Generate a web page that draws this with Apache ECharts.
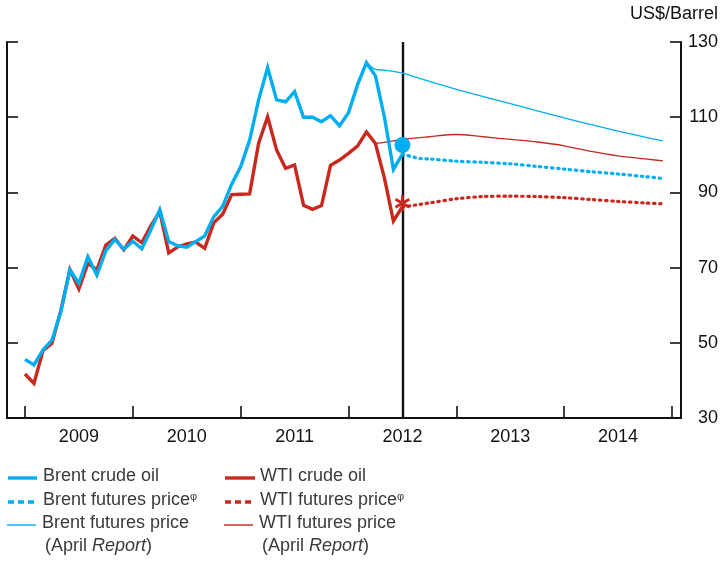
<!DOCTYPE html>
<html>
<head>
<meta charset="utf-8">
<script src="https://cdn.jsdelivr.net/npm/echarts@6/dist/echarts.min.js"></script>
<style>html,body{margin:0;padding:0;background:#fff;}#c{width:721px;height:561px;}</style>
</head>
<body>
<div id="c"></div>
<script>
// ---- axis scaffolding: monthly categories Nov 2008 .. Feb 2015
const axisStart = [2008, 11];
const axisEnd = [2015, 2];
const months = [];
for (let y = axisStart[0], m = axisStart[1]; y < axisEnd[0] || (y === axisEnd[0] && m <= axisEnd[1]); m++) {
  if (m > 12) { m = 1; y++; }
  months.push(y + '-' + String(m).padStart(2, '0'));
}
const yTicks = [30, 50, 70, 90, 110, 130];

// ---- data (US$/barrel), monthly from Jan 2009 to Jul 2012
const histStart = '2009-01';
const brentCrude = [45.6,44.1,48.1,50.7,58.3,69.4,65.8,72.9,68.0,74.5,77.5,74.9,
  77.0,75.0,80.0,85.4,76.9,75.8,75.4,76.9,78.4,83.5,86.3,92.2,
  96.8,103.9,114.6,123.2,114.6,114.1,116.8,110.0,110.0,108.8,110.4,107.7,
  111.2,118.6,124.5,121.0,110.0,96.1,100.2];
const wtiCrude = [41.7,39.2,47.9,49.9,58.7,69.5,64.3,71.1,69.4,76.0,77.8,74.7,
  78.4,76.6,81.1,84.9,73.9,75.5,76.3,76.8,75.1,81.9,84.2,89.4,
  89.5,89.6,103.1,110.1,101.3,96.4,97.3,86.6,85.5,86.5,97.2,98.6,
  100.4,102.3,106.1,103.0,93.8,82.4,86.2];

// futures curves (month, value)
const brentFutMonths = ['2012-07','2012-09','2012-10','2013-01','2013-04','2013-07','2013-10','2014-01','2014-04','2014-07','2014-10','2014-12'];
const brentFut       = [100.2, 99.0, 98.9, 98.3, 98.0, 97.6, 96.9, 96.2, 95.5, 94.9, 94.2, 93.7];
const wtiFutMonths   = ['2012-07','2012-10','2013-01','2013-04','2013-07','2013-10','2014-01','2014-04','2014-07','2014-10','2014-12'];
const wtiFut         = [86.1, 87.2, 88.3, 88.9, 89.0, 88.9, 88.6, 88.1, 87.6, 87.2, 87.0];

const brentAprMonths = ['2012-03','2012-04','2012-05','2012-07','2012-10','2013-01','2013-04','2013-07','2013-10','2014-01','2014-04','2014-07','2014-10','2014-12'];
const brentApr       = [124.5, 122.7, 122.5, 121.7, 119.5, 117.4, 115.5, 113.6, 111.7, 109.8, 108.0, 106.3, 104.7, 103.7];
const wtiAprMonths   = ['2012-04','2012-05','2012-07','2012-10','2013-01','2013-04','2013-07','2013-10','2014-01','2014-04','2014-07','2014-10','2014-12'];
const wtiApr         = [103.0, 103.3, 104.1, 104.8, 105.4, 104.8, 104.1, 103.4, 102.4, 100.9, 99.7, 98.9, 98.4];

const brentSpotMark = ['2012-07', 102.6];
const wtiSpotMark = ['2012-07', 87.1];
const dividerMonth = '2012-07';

// ---- build
const BLUE = '#00AEEF', RED = '#C9281F';
const FONT = '"Liberation Sans", Arial, Helvetica, sans-serif';
const s0 = months.indexOf(histStart);
const hist = arr => arr.map((v, i) => [months[s0 + i], v]);
const pairs = (ms, vs) => ms.map((m, i) => [m, vs[i]]);

const chart = echarts.init(document.getElementById('c'), null, {renderer: 'canvas'});

const yCommon = {
  type: 'value', min: yTicks[0], max: yTicks[yTicks.length - 1], interval: 20,
  splitLine: {show: false},
  axisLine: {show: true, lineStyle: {color: '#111', width: 2}},
  axisTick: {show: true, inside: true, length: 11, lineStyle: {color: '#111', width: 1.6}}
};

function legendRow(y, x1, x2, color, width, dash) {
  return {type: 'line', shape: {x1: x1, y1: y, x2: x2, y2: y},
    style: {stroke: color, lineWidth: width, lineDash: dash || null, lineCap: 'butt'}, silent: true};
}
function legendText(x, y, text, rich) {
  return {type: 'text', left: x, top: y - 11, style: {text: text, fontFamily: FONT, fontSize: 18, fill: '#3a3a3a', rich: rich || undefined}, silent: true};
}
const richFoot = {
  n: {fontFamily: FONT, fontSize: 18, fill: '#3a3a3a'},
  s: {fontFamily: FONT, fontSize: 11, fill: '#3a3a3a', verticalAlign: 'top', padding: [0,0,4,0]}
};
const richIt = {
  n: {fontFamily: FONT, fontSize: 18, fill: '#3a3a3a'},
  i: {fontFamily: FONT, fontSize: 18, fill: '#3a3a3a', fontStyle: 'italic'}
};

chart.setOption({
  animation: false,
  grid: {left: 7, right: 40, top: 42, bottom: 143, containLabel: false},
  xAxis: {
    type: 'category', data: months, boundaryGap: false,
    axisLine: {show: true, lineStyle: {color: '#111', width: 2}},
    axisTick: {show: true, inside: true, length: 12, lineStyle: {color: '#111', width: 1.6},
      interval: (i, v) => v.endsWith('-01')},
    axisLabel: {show: true, interval: (i, v) => v.endsWith('-07'), formatter: v => v.slice(0, 4),
      fontFamily: FONT, fontSize: 18, color: '#111', margin: 10, hideOverlap: false},
    splitLine: {show: false}
  },
  yAxis: [
    Object.assign({}, yCommon, {position: 'left', axisLabel: {show: false}}),
    Object.assign({}, yCommon, {position: 'right',
      axisLabel: {show: true, fontFamily: FONT, fontSize: 18, color: '#111', align: 'right', margin: 37}})
  ],
  series: [
    {name: 'Brent futures price (April Report)', type: 'line', data: pairs(brentAprMonths, brentApr), smooth: 0.3,
      showSymbol: false, lineStyle: {color: BLUE, width: 1.3}, z: 2},
    {name: 'WTI futures price (April Report)', type: 'line', data: pairs(wtiAprMonths, wtiApr), smooth: 0.3,
      showSymbol: false, lineStyle: {color: RED, width: 1.3}, z: 2},
    {name: 'Brent futures price', type: 'line', data: pairs(brentFutMonths, brentFut), smooth: 0.3,
      showSymbol: false, lineStyle: {color: BLUE, width: 3.2, type: [1.5, 4.5], cap: 'round'}, z: 3},
    {name: 'WTI futures price', type: 'line', data: pairs(wtiFutMonths, wtiFut), smooth: 0.3,
      showSymbol: false, lineStyle: {color: RED, width: 3.2, type: [1.5, 4.5], cap: 'round'}, z: 3},
    {name: 'WTI crude oil', type: 'line', data: hist(wtiCrude), showSymbol: false,
      lineStyle: {color: RED, width: 3.4, join: 'miter'}, z: 4},
    {name: 'Brent crude oil', type: 'line', data: hist(brentCrude), showSymbol: false,
      lineStyle: {color: BLUE, width: 3.4, join: 'miter'}, z: 5,
      markLine: {silent: true, symbol: 'none', label: {show: false}, z: 1,
        lineStyle: {color: '#111', width: 2.4, type: 'solid'},
        data: [{xAxis: dividerMonth}]}},
    {name: 'Brent spot', type: 'scatter', data: [brentSpotMark], symbol: 'circle', symbolSize: 16,
      itemStyle: {color: BLUE, opacity: 1}, z: 10},
    {name: 'WTI spot', type: 'scatter', data: [wtiSpotMark],
      symbol: 'path://M0,-10L0,10M-8.66,-5L8.66,5M-8.66,5L8.66,-5', symbolSize: 16, symbolKeepAspect: true,
      itemStyle: {color: 'rgba(0,0,0,0)', borderColor: RED, borderWidth: 2.8, opacity: 1}, z: 10}
  ],
  graphic: [
    {type: 'text', right: 3, top: 5, style: {text: 'US$/Barrel', fontFamily: FONT, fontSize: 18, fill: '#111', textAlign: 'right'}, silent: true},
    legendRow(478, 8, 37, BLUE, 3.4),
    legendText(43, 478, 'Brent crude oil'),
    legendRow(478, 225, 255, RED, 3.4),
    legendText(260, 478, 'WTI crude oil'),
    legendRow(502, 8, 37, BLUE, 3.4, [6, 4]),
    legendText(43, 502, '{n|Brent futures price}{s|φ}', richFoot),
    legendRow(502, 225, 255, RED, 3.4, [6, 4]),
    legendText(260, 502, '{n|WTI futures price}{s|φ}', richFoot),
    legendRow(525, 7, 36, BLUE, 1.4),
    legendText(42, 525, 'Brent futures price'),
    legendRow(525, 224, 253, RED, 1.4),
    legendText(259, 525, 'WTI futures price'),
    legendText(45, 548, '{n|(April }{i|Report}{n|)}', richIt),
    legendText(262, 548, '{n|(April }{i|Report}{n|)}', richIt)
  ]
});
</script>
</body>
</html>
